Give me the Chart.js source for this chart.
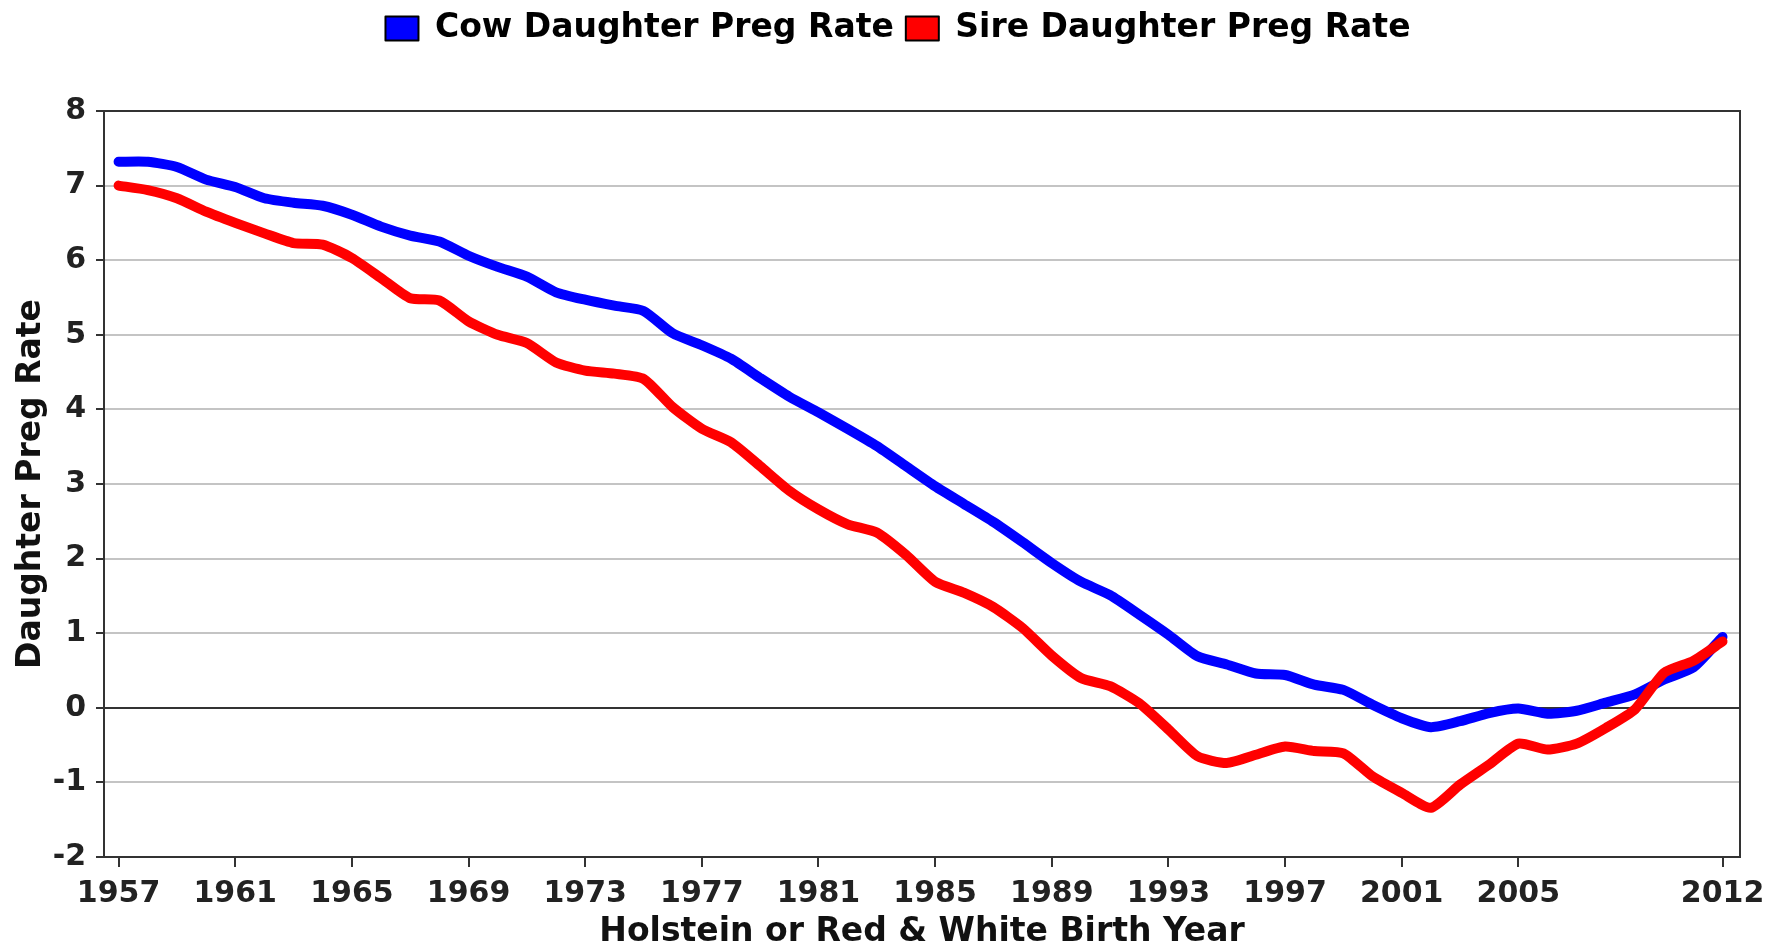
<!DOCTYPE html>
<html>
<head>
<meta charset="utf-8">
<title>Daughter Preg Rate</title>
<script src="https://cdn.jsdelivr.net/npm/chart.js@4.4.1/dist/chart.umd.min.js"></script>
<style>
    html, body { margin: 0; padding: 0; background: #fff; }
    #wrap { width: 1776px; height: 949px; }
</style>
</head>
<body>
<div id="wrap"><canvas id="pregChart" width="1776" height="949"></canvas></div>
<script>
const years = [
    1957, 1958, 1959, 1960, 1961, 1962, 1963, 1964, 1965, 1966,
    1967, 1968, 1969, 1970, 1971, 1972, 1973, 1974, 1975, 1976,
    1977, 1978, 1979, 1980, 1981, 1982, 1983, 1984, 1985, 1986,
    1987, 1988, 1989, 1990, 1991, 1992, 1993, 1994, 1995, 1996,
    1997, 1998, 1999, 2000, 2001, 2002, 2003, 2004, 2005, 2006,
    2007, 2008, 2009, 2010, 2011, 2012
];

const cowPreg = [
    7.32, 7.32, 7.25, 7.08, 6.98, 6.83, 6.77, 6.73, 6.61, 6.45,
    6.33, 6.25, 6.06, 5.91, 5.78, 5.57, 5.47, 5.39, 5.32, 5.02,
    4.86, 4.68, 4.42, 4.17, 3.96, 3.74, 3.51, 3.24, 2.97, 2.73,
    2.49, 2.22, 1.94, 1.69, 1.51, 1.25, 0.98, 0.69, 0.58, 0.46,
    0.44, 0.31, 0.24, 0.04, -0.14, -0.26, -0.18, -0.07, -0.01, -0.08,
    -0.04, 0.07, 0.18, 0.38, 0.54, 0.95
];

const sirePreg = [
    7.00, 6.94, 6.83, 6.65, 6.50, 6.36, 6.23, 6.21, 6.03, 5.76,
    5.49, 5.46, 5.18, 5.00, 4.89, 4.63, 4.52, 4.48, 4.41, 4.03,
    3.74, 3.56, 3.24, 2.91, 2.66, 2.46, 2.35, 2.05, 1.69, 1.54,
    1.35, 1.07, 0.70, 0.40, 0.29, 0.06, -0.29, -0.65, -0.74, -0.63,
    -0.52, -0.58, -0.61, -0.92, -1.14, -1.34, -1.03, -0.76, -0.48, -0.56,
    -0.48, -0.27, -0.02, 0.47, 0.63, 0.89
];

const xTickYears = [1957, 1961, 1965, 1969, 1973, 1977, 1981, 1985, 1989, 1993, 1997, 2001, 2005, 2012];
const seriesNames = ["Cow Daughter Preg Rate", "Sire Daughter Preg Rate"];

const FONT = "'DejaVu Sans', Verdana, sans-serif";

function toPoints(values) {
    return values.map((v, i) => ({ x: years[i], y: v }));
}

// push the plot down below the legend, and nudge the legend a bit right
const legendGap = {
    id: "legendGap",
    beforeInit(chart) {
        const fit = chart.legend.fit;
        chart.legend.fit = function () {
            fit.bind(chart.legend)();
            this.height += 56;
        };
    },
    afterLayout(chart) {
        chart.legend.left += 28;
        chart.legend.right += 28;
    }
};

// dark frame round the plot
const plotFrame = {
    id: "plotFrame",
    afterDraw(chart) {
        const { ctx, chartArea } = chart;
        ctx.save();
        ctx.strokeStyle = "#333";
        ctx.lineWidth = 2;
        ctx.strokeRect(chartArea.left, chartArea.top, chartArea.right - chartArea.left, chartArea.bottom - chartArea.top);
        ctx.restore();
    }
};

const chart = new Chart(document.getElementById("pregChart"), {
    type: "line",
    data: {
        datasets: [
            {
                label: seriesNames[0],
                data: toPoints(cowPreg),
                borderColor: "#0000ff",
                backgroundColor: "#0000ff",
                order: 1
            },
            {
                label: seriesNames[1],
                data: toPoints(sirePreg),
                borderColor: "#ff0000",
                backgroundColor: "#ff0000",
                order: 0
            }
        ]
    },
    options: {
        responsive: false,
        animation: false,
        devicePixelRatio: 1,
        layout: { padding: { top: 0, right: 36, left: 0, bottom: 0 } },
        elements: {
            line: { borderWidth: 10, tension: 0.2, borderCapStyle: "round", borderJoinStyle: "round", fill: false },
            point: { radius: 0, hoverRadius: 0 }
        },
        plugins: {
            legend: {
                labels: {
                    font: { family: FONT, size: 33, weight: "bold" },
                    color: "#000",
                    boxWidth: 33,
                    boxHeight: 24,
                    padding: 12,
                    sort: (a, b) => a.datasetIndex - b.datasetIndex,
                    generateLabels(chart) {
                        const items = Chart.defaults.plugins.legend.labels.generateLabels(chart);
                        items.forEach(item => {
                            item.strokeStyle = "#000";
                            item.lineWidth = 2;
                        });
                        return items;
                    }
                }
            },
            tooltip: { enabled: false }
        },
        scales: {
            x: {
                type: "linear",
                min: 1956.5,
                max: 2012.6,
                afterBuildTicks: scale => {
                    scale.ticks = xTickYears.map(v => ({ value: v }));
                },
                afterFit: scale => { scale.height = 92; },
                grid: { drawOnChartArea: false, drawTicks: true, tickLength: 10, color: "#333", lineWidth: 2 },
                border: { color: "#333", width: 2 },
                ticks: {
                    font: { family: FONT, size: 30, weight: "bold" },
                    color: "#222",
                    padding: 9,
                    maxRotation: 0,
                    autoSkip: false,
                    callback: v => String(v)
                },
                title: {
                    display: true,
                    text: "Holstein or Red & White Birth Year",
                    font: { family: FONT, size: 33, weight: "bold", lineHeight: 1 },
                    color: "#111",
                    padding: { top: 0, bottom: 0 }
                }
            },
            y: {
                min: -2,
                max: 8,
                afterFit: scale => { scale.width = 104; },
                grid: {
                    color: ctx => (ctx.tick.value === 0 || ctx.tick.value === 8) ? "#333" : "#c4c4c4",
                    tickColor: "#333",
                    lineWidth: 2,
                    tickLength: 8
                },
                border: { color: "#333", width: 2 },
                ticks: {
                    stepSize: 1,
                    font: { family: FONT, size: 30, weight: "bold" },
                    color: "#222",
                    padding: 10
                },
                title: {
                    display: true,
                    text: "Daughter Preg Rate",
                    font: { family: FONT, size: 33, weight: "bold", lineHeight: 1 },
                    color: "#111",
                    padding: { top: 15, bottom: 0 }
                }
            }
        }
    },
    plugins: [legendGap, plotFrame]
});
</script>
</body>
</html>
